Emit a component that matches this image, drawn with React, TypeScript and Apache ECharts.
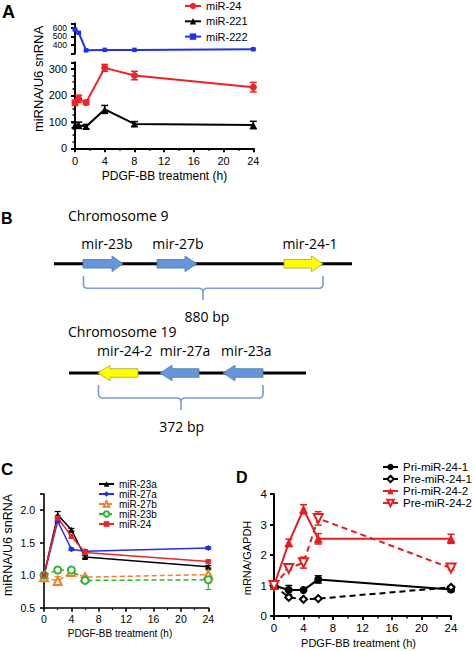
import React, { useEffect, useRef } from 'react';
import * as echarts from 'echarts';

// ---------- Panel A data ----------
const aTimes = [0, 0.5, 1.5, 4, 8, 24];
const aMiR24 = [172, 187, 173, 304, 275, 231];
const aMiR24Err = [10, 14, 8, 13, 16, 18];
const aMiR221 = [87, 87, 82, 147, 92, 88];
const aMiR221Err = [9, 12, 8, 15, 9, 14];
const aMiR222 = [580, 542, 337, 342, 342, 350];
const aMiR222Err = [6, 6, 4, 4, 4, 4];

// ---------- Panel C data ----------
const cTimes = [0, 2, 4, 6, 24];
const cMiR23a = [1.0, 1.93, 1.7, 1.28, 1.13];
const cMiR23aErr = [0.01, 0.05, 0.02, 0.02, 0.02];
const cMiR27a = [1.0, 1.83, 1.4, 1.37, 1.42];
const cMiR27aErr = [0.01, 0.02, 0.02, 0.02, 0.02];
const cMiR27b = [0.97, 0.91, 1.05, 0.97, 1.01];
const cMiR27bErr = [0.03, 0.07, 0.03, 0.02, 0.11];
const cMiR23b = [1.0, 1.08, 1.08, 0.92, 0.93];
const cMiR23bErr = [0.02, 0.04, 0.02, 0.02, 0.15];
const cMiR24 = [1.0, 1.88, 1.6, 1.35, 1.21];
const cMiR24Err = [0.01, 0.04, 0.03, 0.03, 0.02];

// ---------- Panel D data ----------
const dTimes = [0, 2, 4, 6, 24];
const dPri1 = [1.0, 0.85, 0.85, 1.2, 0.87];
const dPri1Err = [0.05, 0.15, 0.03, 0.12, 0.07];
const dPre1 = [1.0, 0.61, 0.55, 0.57, 0.94];
const dPre1Err = [0.03, 0.03, 0.03, 0.03, 0.05];
const dPri2 = [1.0, 2.4, 3.5, 2.53, 2.53];
const dPri2Err = [0.05, 0.12, 0.15, 0.17, 0.15];
const dPre2 = [1.0, 1.56, 1.75, 3.2, 1.57];
const dPre2Err = [0.05, 0.05, 0.18, 0.22, 0.05];

// ---------- Panel B labels ----------
const chr9Label = 'Chromosome 9';
const chr19Label = 'Chromosome 19';
const chr9Genes = ['mir-23b', 'mir-27b', 'mir-24-1'];
const chr19Genes = ['mir-24-2', 'mir-27a', 'mir-23a'];
const chr9Span = '880 bp';
const chr19Span = '372 bp';

const xTitle = 'PDGF-BB treatment (h)';

const FONT = '"Liberation Sans", Arial, sans-serif';
const BFONT = '"Open Sans", sans-serif';

const zip = (xs: number[], ys: number[]) => xs.map((x, i) => [x, ys[i]]);
const zip3 = (xs: number[], ys: number[], es: number[]) => xs.map((x, i) => [x, ys[i], es[i]]);

function errSeries(xi: number, yi: number, data: number[][], color: string, lw: number, cap: number) {
  return {
    type: 'custom',
    xAxisIndex: xi,
    yAxisIndex: yi,
    z: 3,
    silent: true,
    encode: { x: 0, y: 1 },
    data,
    renderItem: (params: any, api: any) => {
      const x = api.value(0);
      const y = api.value(1);
      const e = api.value(2);
      const p1 = api.coord([x, y + e]);
      const p2 = api.coord([x, y - e]);
      const st = { stroke: color, lineWidth: lw };
      return {
        type: 'group',
        children: [
          { type: 'line', shape: { x1: p1[0], y1: p1[1], x2: p2[0], y2: p2[1] }, style: st },
          { type: 'line', shape: { x1: p1[0] - cap, y1: p1[1], x2: p1[0] + cap, y2: p1[1] }, style: st },
          { type: 'line', shape: { x1: p2[0] - cap, y1: p2[1], x2: p2[0] + cap, y2: p2[1] }, style: st },
        ],
      };
    },
  };
}

function lineSeries(
  name: string,
  xi: number,
  yi: number,
  data: number[][],
  color: string,
  symbol: string,
  size: number,
  lw: number,
  dashed?: number[] | null,
  rotate?: number
) {
  return {
    type: 'line',
    name,
    xAxisIndex: xi,
    yAxisIndex: yi,
    data,
    z: 4,
    symbol,
    symbolSize: size,
    symbolRotate: rotate || 0,
    showAllSymbol: true,
    color,
    lineStyle: { color, width: lw, type: dashed || 'solid' },
    itemStyle: { color, borderColor: color, borderWidth: symbol.indexOf('empty') === 0 ? 1.8 : 0 },
    emphasis: { disabled: true },
  };
}

function axisCommon(w: number, fs: number, margin: number) {
  return {
    axisLine: { show: true, onZero: false, lineStyle: { color: '#000', width: w } },
    axisTick: { show: true, length: 4, lineStyle: { color: '#000', width: w } },
    axisLabel: { color: '#000', fontSize: fs, fontFamily: FONT, margin },
    splitLine: { show: false },
  };
}

function rightArrow(tail: number, hb: number, tip: number, cy: number, bh: number, hh: number) {
  return [
    [tail, cy - bh], [hb, cy - bh], [hb, cy - hh], [tip, cy], [hb, cy + hh], [hb, cy + bh], [tail, cy + bh],
  ];
}
function leftArrow(tip: number, hb: number, tail: number, cy: number, bh: number, hh: number) {
  return [
    [tail, cy - bh], [hb, cy - bh], [hb, cy - hh], [tip, cy], [hb, cy + hh], [hb, cy + bh], [tail, cy + bh],
  ];
}
function brace(x1: number, x2: number, mid: number, top: number, bottom: number, tipY: number) {
  const left = [[x1, top], [x1, bottom - 3], [x1 + 1, bottom - 1], [x1 + 3, bottom], [mid - 3, bottom], [mid - 1, bottom + 1], [mid, bottom + 3], [mid, tipY]];
  const right = [[x2, top], [x2, bottom - 3], [x2 - 1, bottom - 1], [x2 - 3, bottom], [mid + 3, bottom], [mid + 1, bottom + 1], [mid, bottom + 3]];
  const st = { stroke: '#7c9dcb', lineWidth: 1.6, fill: null };
  return [
    { type: 'polyline', shape: { points: left }, style: st },
    { type: 'polyline', shape: { points: right }, style: st },
  ];
}

const BLUE_FILL = '#6596d8';
const BLUE_STROKE = '#4a78b5';
const YEL_FILL = '#ffff00';
const YEL_STROKE = '#a8a830';

function txt(text: string, x: number, y: number, fs: number, opts: any = {}) {
  return {
    type: 'text',
    x,
    y,
    rotation: opts.rotation || 0,
    style: {
      text,
      fill: opts.fill || '#000',
      fontSize: fs,
      fontFamily: opts.family || FONT,
      fontWeight: opts.weight || 'normal',
      textAlign: opts.align || 'center',
      textVerticalAlign: 'middle',
    },
  };
}

export default function App() {
  const ref = useRef<HTMLDivElement>(null);
  useEffect(() => {
    if (!ref.current) return;
    const chart = echarts.init(ref.current, undefined, { renderer: 'svg' });
    const chr9Y = 263.8;
    const chr19Y = 373;
    const bh = 4.3;
    const hh = 7.8;
    const option: any = {
      animation: false,
      backgroundColor: '#fff',
      textStyle: { fontFamily: FONT },
      grid: [
        { left: 75, top: 23.5, width: 178.3, height: 30 },
        { left: 75, top: 62.3, width: 178.3, height: 86 },
        { left: 44, top: 494, width: 164.3, height: 113.7 },
        { left: 274, top: 494, width: 177, height: 122 },
      ],
      xAxis: [
        { type: 'value', gridIndex: 0, min: 0, max: 24, show: false },
        {
          type: 'value', gridIndex: 1, min: 0, max: 24, interval: 4,
          ...axisCommon(2, 11, 7),
          minorTick: { show: true, splitNumber: 2, length: 2.5, lineStyle: { color: '#000', width: 1.5 } },
        },
        {
          type: 'value', gridIndex: 2, min: 0, max: 24, interval: 4,
          ...axisCommon(1.6, 10.5, 6),
          minorTick: { show: true, splitNumber: 2, length: 2.5, lineStyle: { color: '#000', width: 1.2 } },
        },
        {
          type: 'value', gridIndex: 3, min: 0, max: 24, interval: 4,
          ...axisCommon(2, 11.5, 6),
          minorTick: { show: true, splitNumber: 2, length: 2.5, lineStyle: { color: '#000', width: 1.5 } },
        },
      ],
      yAxis: [
        {
          type: 'value', gridIndex: 0, min: 300, max: 650, interval: 100,
          ...axisCommon(2, 8.5, 8),
          axisLabel: {
            color: '#000', fontSize: 8.5, fontFamily: FONT, margin: 8, lineHeight: 8,
            formatter: (v: number) => (v === 300 || v === 650 ? '' : String(v)),
          },
        },
        {
          type: 'value', gridIndex: 1, min: 0, max: 325, interval: 100,
          ...axisCommon(2, 11, 8),
          axisLabel: {
            color: '#000', fontSize: 11, fontFamily: FONT, margin: 8,
            formatter: (v: number) => (v % 100 === 0 ? String(v) : ''),
          },
          minorTick: { show: true, splitNumber: 4, length: 2.5, lineStyle: { color: '#000', width: 1.5 } },
        },
        {
          type: 'value', gridIndex: 2, min: 0.5, max: 2.25, interval: 0.5,
          ...axisCommon(1.6, 10.5, 9),
          axisLabel: {
            color: '#000', fontSize: 10.5, fontFamily: FONT, margin: 9,
            formatter: (v: number) => (Math.abs(v * 2 - Math.round(v * 2)) < 1e-6 ? v.toFixed(1) : ''),
          },
        },
        {
          type: 'value', gridIndex: 3, min: 0, max: 4, interval: 1,
          ...axisCommon(2, 11.5, 7),
        },
      ],
      legend: [
        {
          left: 184, top: 0, orient: 'vertical', padding: 0, itemWidth: 16, itemHeight: 8, itemGap: 3.3,
          selectedMode: false,
          data: ['A|miR-24', 'A|miR-221', 'A|miR-222'],
          formatter: (n: string) => n.split('|')[1],
          textStyle: { fontSize: 11, fontFamily: FONT, color: '#000', lineHeight: 12 },
        },
        {
          left: 98, top: 479, orient: 'vertical', padding: 0, itemWidth: 15, itemHeight: 7, itemGap: 0,
          selectedMode: false,
          data: ['C|miR-23a', 'C|miR-27a', 'C|miR-27b', 'C|miR-23b', 'C|miR-24'],
          formatter: (n: string) => n.split('|')[1],
          textStyle: { fontSize: 10, fontFamily: FONT, color: '#000', lineHeight: 10 },
        },
        {
          left: 382, top: 461, orient: 'vertical', padding: 0, itemWidth: 15, itemHeight: 8, itemGap: 0,
          selectedMode: false,
          data: ['D|Pri-miR-24-1', 'D|Pre-miR-24-1', 'D|Pri-miR-24-2', 'D|Pre-miR-24-2'],
          formatter: (n: string) => n.split('|')[1],
          textStyle: { fontSize: 11.5, fontFamily: FONT, color: '#000', lineHeight: 10.4 },
        },
      ],
      series: [
        // Panel A
        errSeries(1, 1, zip3(aTimes, aMiR24, aMiR24Err), '#ee2227', 1.5, 3.5),
        errSeries(1, 1, zip3(aTimes, aMiR221, aMiR221Err), '#000', 1.5, 3.5),
        errSeries(0, 0, zip3(aTimes, aMiR222, aMiR222Err), '#2233e6', 1.2, 2.5),
        lineSeries('A|miR-24', 1, 1, zip(aTimes, aMiR24), '#ee2227', 'circle', 7, 2),
        lineSeries('A|miR-221', 1, 1, zip(aTimes, aMiR221), '#000000', 'triangle', 7, 2),
        lineSeries('A|miR-222', 0, 0, zip(aTimes, aMiR222), '#2233e6', 'rect', 4.5, 2),
        // Panel C
        errSeries(2, 2, zip3(cTimes, cMiR23a, cMiR23aErr), '#000', 1.2, 3),
        errSeries(2, 2, zip3(cTimes, cMiR27a, cMiR27aErr), '#1f2fe8', 1.2, 3),
        errSeries(2, 2, zip3(cTimes, cMiR27b, cMiR27bErr), '#f0802f', 1.2, 3),
        errSeries(2, 2, zip3(cTimes, cMiR23b, cMiR23bErr), '#35b135', 1.2, 3),
        errSeries(2, 2, zip3(cTimes, cMiR24, cMiR24Err), '#e8262a', 1.2, 3),
        lineSeries('C|miR-23a', 2, 2, zip(cTimes, cMiR23a), '#000000', 'triangle', 6, 1.5),
        lineSeries('C|miR-27a', 2, 2, zip(cTimes, cMiR27a), '#1f2fe8', 'diamond', 6, 1.5),
        lineSeries('C|miR-27b', 2, 2, zip(cTimes, cMiR27b), '#f0802f', 'emptyTriangle', 8, 1.5, [5, 3]),
        lineSeries('C|miR-23b', 2, 2, zip(cTimes, cMiR23b), '#35b135', 'emptyCircle', 7, 1.5, [5, 3]),
        lineSeries('C|miR-24', 2, 2, zip(cTimes, cMiR24), '#e8262a', 'rect', 5, 1.5),
        // Panel D
        errSeries(3, 3, zip3(dTimes, dPri1, dPri1Err), '#000', 1.5, 3.5),
        errSeries(3, 3, zip3(dTimes, dPre1, dPre1Err), '#000', 1.5, 3.5),
        errSeries(3, 3, zip3(dTimes, dPri2, dPri2Err), '#e41f1f', 1.5, 3.5),
        errSeries(3, 3, zip3(dTimes, dPre2, dPre2Err), '#e41f1f', 1.5, 3.5),
        lineSeries('D|Pri-miR-24-1', 3, 3, zip(dTimes, dPri1), '#000000', 'circle', 8, 2),
        lineSeries('D|Pre-miR-24-1', 3, 3, zip(dTimes, dPre1), '#000000', 'emptyDiamond', 7, 2, [6, 4]),
        lineSeries('D|Pri-miR-24-2', 3, 3, zip(dTimes, dPri2), '#e41f1f', 'triangle', 9, 2),
        lineSeries('D|Pre-miR-24-2', 3, 3, zip(dTimes, dPre2), '#e41f1f', 'emptyTriangle', 9, 2, [6, 4], 180),
      ],
      graphic: [
        // panel letters
        txt('A', 2, 12, 18, { weight: 'bold', align: 'left' }),
        txt('B', 1, 218, 16, { weight: 'bold', align: 'left' }),
        txt('C', 1, 469, 17, { weight: 'bold', align: 'left' }),
        txt('D', 236, 477, 16, { weight: 'bold', align: 'left' }),
        // axis titles
        txt('miRNA/U6 snRNA', 38, 79, 13, { rotation: Math.PI / 2 }),
        txt(xTitle, 164.5, 176, 12),
        txt('miRNA/U6 snRNA', 7.5, 545, 12.5, { rotation: Math.PI / 2 }),
        txt(xTitle, 120, 633, 10),
        txt('mRNA/GAPDH', 247, 558, 11, { rotation: Math.PI / 2 }),
        txt(xTitle, 358.5, 643, 11),
        // Panel B: chromosome 9
        txt(chr9Label, 68, 215.5, 14, { family: BFONT, align: 'left' }),
        { type: 'line', shape: { x1: 54, y1: chr9Y, x2: 352, y2: chr9Y }, style: { stroke: '#000', lineWidth: 3 } },
        { type: 'polygon', shape: { points: rightArrow(83, 112, 123, chr9Y, bh, hh) }, style: { fill: BLUE_FILL, stroke: BLUE_STROKE, lineWidth: 0.8 } },
        { type: 'polygon', shape: { points: rightArrow(157, 185, 197, chr9Y, bh, hh) }, style: { fill: BLUE_FILL, stroke: BLUE_STROKE, lineWidth: 0.8 } },
        { type: 'polygon', shape: { points: rightArrow(284, 311.5, 323, chr9Y, bh, hh) }, style: { fill: YEL_FILL, stroke: YEL_STROKE, lineWidth: 0.8 } },
        txt(chr9Genes[0], 107, 243, 14, { family: BFONT }),
        txt(chr9Genes[1], 178, 243, 14, { family: BFONT }),
        txt(chr9Genes[2], 310, 243, 14, { family: BFONT }),
        ...brace(83.5, 323, 203, 276, 288.3, 300),
        txt(chr9Span, 207, 316, 14, { family: BFONT }),
        // Panel B: chromosome 19
        txt(chr19Label, 68, 331.5, 14, { family: BFONT, align: 'left' }),
        { type: 'line', shape: { x1: 69, y1: chr19Y, x2: 306, y2: chr19Y }, style: { stroke: '#000', lineWidth: 3 } },
        { type: 'polygon', shape: { points: leftArrow(98, 110, 138, chr19Y, bh, hh) }, style: { fill: YEL_FILL, stroke: YEL_STROKE, lineWidth: 0.8 } },
        { type: 'polygon', shape: { points: leftArrow(160, 172, 199, chr19Y, bh, hh) }, style: { fill: BLUE_FILL, stroke: BLUE_STROKE, lineWidth: 0.8 } },
        { type: 'polygon', shape: { points: leftArrow(223, 235, 263, chr19Y, bh, hh) }, style: { fill: BLUE_FILL, stroke: BLUE_STROKE, lineWidth: 0.8 } },
        txt(chr19Genes[0], 124.7, 350.3, 14, { family: BFONT }),
        txt(chr19Genes[1], 185, 350.3, 14, { family: BFONT }),
        txt(chr19Genes[2], 246.3, 350.3, 14, { family: BFONT }),
        ...brace(98.5, 263, 181, 385, 398, 410),
        txt(chr19Span, 181.7, 426.3, 14, { family: BFONT }),
      ],
    };
    chart.setOption(option);
    return () => chart.dispose();
  }, []);
  return (
    <div
      ref={ref}
      style={{ position: 'fixed', left: 0, top: 0, width: 475, height: 651, background: '#fff' }}
    />
  );
}
